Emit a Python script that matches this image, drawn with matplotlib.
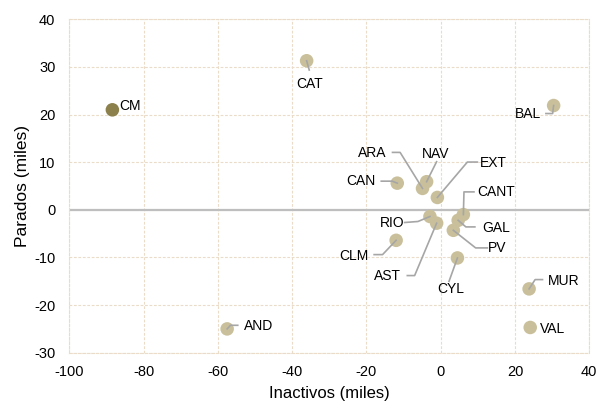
import matplotlib
matplotlib.use("Agg")
import matplotlib.pyplot as plt
from matplotlib.lines import Line2D
import numpy as np

plt.rcParams['font.family'] = ['Liberation Sans', 'DejaVu Sans']
plt.rcParams['axes.unicode_minus'] = False

# ---- data ----
regions = ["CM", "CAT", "BAL", "AND", "VAL", "MUR", "CAN", "ARA", "NAV", "EXT",
           "CANT", "GAL", "PV", "RIO", "AST", "CLM", "CYL"]
inactivos = [-88.4, -36.1, 30.4, -57.5, 24.1, 23.8, -11.7, -4.9, -3.8, -0.9,
             6.1, 4.7, 3.4, -2.9, -1.1, -12.0, 4.5]
parados = [21.0, 31.3, 21.9, -25.0, -24.7, -16.6, 5.6, 4.5, 5.9, 2.6,
           -1.0, -2.2, -4.3, -1.4, -2.8, -6.4, -10.1]
highlight = "CM"
x_ticks = [-100, -80, -60, -40, -20, 0, 20, 40]
y_ticks = [-30, -20, -10, 0, 10, 20, 30, 40]

# ---- layout of labels (pixel offsets from dot) ----
label_offset = {
    "CM": (18, 4), "CAT": (3, -23), "BAL": (-26, -8), "AND": (31, 3),
    "VAL": (22, -2), "MUR": (35, 8), "CAN": (-36, 2), "ARA": (-50, 35),
    "NAV": (9, 28), "EXT": (56, 34), "CANT": (33, 23), "GAL": (38, -8),
    "PV": (44, -18), "RIO": (-38, -7), "AST": (-49, -53), "CLM": (-42, -16),
    "CYL": (-7, -31),
}
leaders = {
    "ARA": [(-30, 36), (-22.4, 36), (0, 0)],
    "NAV": [(10, 20), (0, 0)],
    "EXT": [(40, 35.4), (30, 35.4), (0, 0)],
    "CAN": [(-16, 2), (-5, 2), (0, 0)],
    "CANT": [(10.6, 22.7), (0.6, 22.7), (0, 0)],
    "GAL": [(16.7, -6.6), (7.7, -6.6), (0, 0)],
    "PV": [(34, -17.6), (22.3, -17.6), (0, 0)],
    "RIO": [(-25.3, -6), (-12, -5), (0, 0)],
    "CLM": [(-22, -14.3), (-13.6, -14.3), (0, 0)],
    "AST": [(-29.3, -52.4), (-22, -52.4), (0, 0)],
    "CYL": [(-8.4, -23.4), (0, 0)],
    "BAL": [(-7.7, -8), (-1, -8), (0, 0)],
    "MUR": [(13.4, 9.3), (6, 9.3), (0, 0)],
    "AND": [(10.6, 3.6), (3.3, 3.6), (0, 0)],
    "CAT": [(2.6, -9.3), (0, 0)],
}

DPI = 100
fig = plt.figure(figsize=(6.01, 4.05), dpi=DPI)
ax = fig.add_axes([0.1153, 0.1291, 0.8652, 0.8232])

grid_c = "#EADCC8"
ax.set_xlim(-100, 40)
ax.set_ylim(-30, 40)
ax.set_xticks(x_ticks)
ax.set_yticks(y_ticks)
ax.set_axisbelow(True)
ax.grid(True, color=grid_c, linestyle=(0, (2.5, 1.5)), linewidth=0.8)
for s in ax.spines.values():
    s.set_color(grid_c)
    s.set_linestyle((0, (2.5, 1.5)))
    s.set_linewidth(0.8)
ax.tick_params(length=0, labelsize=10.5, colors="#000000")
ax.tick_params(axis="x", pad=9)
ax.tick_params(axis="y", pad=10)
ax.axhline(0, color="#BEBEBE", lw=1.6, zorder=2)

colors = ["#8C804D" if r == highlight else "#C9C09B" for r in regions]
ax.scatter(inactivos, parados, s=95, c=colors, edgecolors="none", zorder=3)

ax.set_xlabel("Inactivos (miles)", fontsize=12, labelpad=5)
ax.set_ylabel("Parados (miles)", fontsize=12.5, labelpad=3)

fig.canvas.draw()
for r, x, y in zip(regions, inactivos, parados):
    px, py = ax.transData.transform((x, y))
    dx, dy = label_offset[r]
    fig.text((px + dx) / fig.bbox.width, (py + dy) / fig.bbox.height, r,
             ha="center", va="center", fontsize=10, color="#000000")
    if r in leaders:
        pts = np.array(leaders[r], dtype=float)
        xs = (px + pts[:, 0]) / fig.bbox.width
        ys = (py + pts[:, 1]) / fig.bbox.height
        fig.add_artist(Line2D(xs, ys, transform=fig.transFigure,
                              color="#A6A6A6", lw=1.2, zorder=5))

fig.savefig("out.png", dpi=DPI)
